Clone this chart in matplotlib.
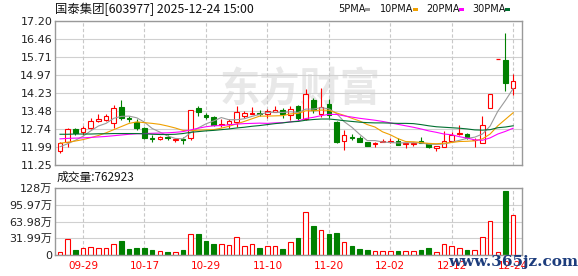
import matplotlib
matplotlib.use("Agg")
import matplotlib.pyplot as plt
from matplotlib.patches import Rectangle

plt.rcParams['font.family'] = ['DejaVu Sans', 'Noto Sans CJK SC']

W, H = 578, 276

# ---- data ----
dates = ['09-24', '09-25', '09-26', '09-29', '09-30', '10-09', '10-10', '10-13', '10-14', '10-15',
         '10-16', '10-17', '10-20', '10-21', '10-22', '10-23', '10-24', '10-27', '10-28', '10-29',
         '10-30', '10-31', '11-03', '11-04', '11-05', '11-06', '11-07', '11-10', '11-11', '11-12',
         '11-13', '11-14', '11-17', '11-18', '11-19', '11-20', '11-21', '11-24', '11-25', '11-26',
         '11-27', '11-28', '12-01', '12-02', '12-03', '12-04', '12-05', '12-08', '12-09', '12-10',
         '12-11', '12-12', '12-15', '12-16', '12-17', '12-18', '12-19', '12-22', '12-23', '12-24']

opens = [11.84, 12.19, 12.74, 12.60, 12.79, 13.08, 13.12, 12.97, 13.63, 13.19,
         13.04, 12.79, 12.38, 12.31, 12.39, 12.28, 12.32, 12.35, 13.59, 13.32,
         13.23, 12.92, 12.94, 13.01, 13.29, 13.37, 13.40, 13.34, 13.45, 13.53,
         13.32, 13.70, 13.14, 13.94, 13.36, 13.76, 13.04, 12.24, 12.42, 12.35,
         12.19, 12.10, 12.21, 12.22, 12.24, 12.10, 12.12, 12.23, 12.15, 11.94,
         12.01, 12.25, 12.55, 12.53, 12.27, 12.17, 13.59, 15.61, 15.59, 14.44]
highs = [12.21, 12.79, 12.79, 12.87, 13.18, 13.35, 13.35, 13.73, 13.94, 13.28,
         13.14, 12.83, 12.49, 12.46, 12.47, 12.36, 12.40, 13.54, 13.69, 13.41,
         13.27, 13.14, 13.15, 13.70, 13.49, 13.66, 13.53, 13.56, 13.69, 13.59,
         13.70, 13.73, 14.39, 14.01, 14.42, 13.98, 13.06, 12.70, 12.52, 12.46,
         12.22, 12.18, 12.32, 12.38, 12.35, 12.16, 12.22, 12.42, 12.17, 12.05,
         12.65, 12.62, 12.92, 12.59, 12.38, 13.27, 14.19, 15.61, 16.72, 15.00]
lows = [11.76, 12.01, 12.49, 12.49, 12.72, 13.01, 13.07, 12.79, 13.11, 13.01,
        12.70, 12.32, 12.21, 12.28, 12.30, 12.19, 12.12, 12.30, 13.27, 13.14,
        12.86, 12.83, 12.77, 12.83, 13.20, 13.34, 13.27, 13.18, 13.43, 13.18,
        13.11, 13.10, 13.12, 13.39, 13.25, 13.18, 12.15, 11.87, 12.28, 12.18,
        12.04, 12.01, 12.19, 12.15, 12.06, 11.96, 12.02, 12.15, 11.94, 11.84,
        12.00, 12.21, 12.50, 12.33, 12.01, 12.14, 13.59, 15.61, 14.32, 14.14]
closes = [12.15, 12.72, 12.57, 12.79, 13.07, 13.15, 13.27, 13.62, 13.18, 13.15,
          12.79, 12.38, 12.31, 12.42, 12.36, 12.31, 12.28, 13.52, 13.43, 13.23,
          12.90, 12.96, 13.08, 13.45, 13.39, 13.40, 13.36, 13.48, 13.53, 13.34,
          13.56, 13.19, 14.17, 13.52, 13.66, 13.32, 12.21, 12.49, 12.38, 12.19,
          12.05, 12.17, 12.23, 12.25, 12.08, 12.14, 12.15, 12.17, 12.01, 12.04,
          12.24, 12.51, 12.57, 12.37, 12.30, 12.90, 14.19, 15.61, 14.63, 14.72]

# volume, in 万
volumes = [5.7, 29.9, 9.6, 13.4, 15.3, 12.7, 12.7, 21.0, 26.8, 11.5,
           13.4, 13.4, 9.6, 7.0, 5.7, 5.7, 9.6, 39.5, 40.8, 26.8,
           21.0, 20.4, 19.1, 33.8, 17.2, 20.4, 13.4, 17.2, 17.2, 12.1,
           25.5, 33.1, 82.2, 56.1, 47.8, 40.8, 42.7, 24.8, 17.2, 11.5,
           9.6, 7.0, 7.0, 7.0, 7.0, 7.6, 7.6, 8.9, 13.4, 5.1,
           20.4, 17.2, 12.7, 9.6, 9.6, 33.8, 64.3, 5.1, 122.0, 76.29]

ma5 = [12.00, 12.13, 12.27, 12.44, 12.66, 12.86, 12.97, 13.18, 13.26, 13.27,
       13.20, 13.02, 12.76, 12.61, 12.45, 12.35, 12.33, 12.58, 12.78, 12.95,
       13.07, 13.21, 13.12, 13.12, 13.16, 13.26, 13.34, 13.42, 13.43, 13.42,
       13.45, 13.42, 13.56, 13.56, 13.62, 13.57, 13.38, 13.04, 12.81, 12.52,
       12.26, 12.26, 12.20, 12.18, 12.16, 12.17, 12.17, 12.16, 12.11, 12.10,
       12.12, 12.19, 12.27, 12.35, 12.40, 12.53, 12.86, 13.47, 13.92, 14.41]
ma10 = [12.15, 12.19, 12.24, 12.30, 12.38, 12.47, 12.58, 12.71, 12.84, 12.97,
        13.03, 13.00, 12.97, 12.93, 12.86, 12.78, 12.68, 12.67, 12.69, 12.70,
        12.71, 12.77, 12.85, 12.95, 13.05, 13.16, 13.27, 13.27, 13.28, 13.29,
        13.36, 13.38, 13.49, 13.49, 13.52, 13.51, 13.40, 13.30, 13.18, 13.07,
        12.92, 12.82, 12.62, 12.50, 12.34, 12.22, 12.21, 12.18, 12.14, 12.13,
        12.15, 12.18, 12.22, 12.23, 12.25, 12.33, 12.53, 12.87, 13.14, 13.41]
ma20 = [12.33, 12.35, 12.36, 12.37, 12.39, 12.41, 12.43, 12.46, 12.49, 12.52,
        12.54, 12.55, 12.56, 12.57, 12.58, 12.60, 12.63, 12.70, 12.77, 12.83,
        12.87, 12.88, 12.91, 12.94, 12.96, 12.97, 12.98, 12.97, 12.99, 13.00,
        13.03, 13.07, 13.17, 13.22, 13.29, 13.34, 13.34, 13.28, 13.23, 13.18,
        13.14, 13.10, 13.05, 12.99, 12.93, 12.87, 12.81, 12.74, 12.66, 12.60,
        12.53, 12.50, 12.42, 12.36, 12.29, 12.27, 12.37, 12.53, 12.64, 12.77]
ma30 = [12.52, 12.52, 12.53, 12.53, 12.53, 12.54, 12.54, 12.55, 12.55, 12.55,
        12.55, 12.54, 12.52, 12.51, 12.51, 12.52, 12.55, 12.60, 12.63, 12.66,
        12.68, 12.71, 12.74, 12.78, 12.81, 12.85, 12.88, 12.92, 12.96, 12.99,
        13.03, 13.05, 13.10, 13.13, 13.15, 13.15, 13.12, 13.08, 13.05, 13.02,
        13.00, 12.99, 12.99, 12.98, 12.97, 12.97, 12.96, 12.92, 12.87, 12.83,
        12.81, 12.79, 12.77, 12.74, 12.70, 12.69, 12.71, 12.79, 12.82, 12.87]

price_ticks = [11.25, 11.99, 12.74, 13.48, 14.23, 14.97, 15.71, 16.46, 17.20]
price_labels = ['11.25', '11.99', '12.74', '13.48', '14.23', '14.97', '15.71', '16.46', '17.20']
vol_ticks = [0, 31.99, 63.98, 95.97, 127.96]
vol_labels = ['0', '31.99万', '63.98万', '95.97万', '128万']
ma_names = ['5PMA', '10PMA', '20PMA', '30PMA']
ma_colors = ['#9a9a9a', '#f0a000', '#ff00ff', '#006f30']
title = '国泰集团[603977] 2025-12-24 15:00'
last_vol = '762923'

RED = '#ff0000'
GREEN = '#008000'


def box(l, t, r, b):
    return [l / W, 1 - b / H, (r - l) / W, (b - t) / H]


fig = plt.figure(figsize=(W / 100, H / 100), dpi=100)
ax = fig.add_axes(box(55, 21, 522, 165))
axv = fig.add_axes(box(55, 188, 522, 255))

n = len(dates)
for a in (ax, axv):
    a.set_xlim(-0.65, 60.15)
    for s in a.spines.values():
        s.set_color('#999999')
        s.set_linewidth(1)
    a.tick_params(length=0, labelsize=8, colors='#222222', pad=2)
    for i in range(3, n, 8):
        a.axvline(i, color='#c8c8c8', lw=0.8, ls=(0, (3, 2)), zorder=0.6)
    a.yaxis.grid(True, color='#d0d0d0', lw=0.8)
    a.set_axisbelow(True)

# price panel
ax.set_ylim(price_ticks[0], price_ticks[-1])
ax.set_yticks(price_ticks)
ax.set_yticklabels(price_labels)
ax.set_xticks([])

ax.text(300 / W, 1 - 90 / H, '东方财富', transform=fig.transFigure, ha='center', va='center',
        fontsize=29, fontweight='bold', color='#e8e8e8', family=['Noto Sans CJK SC'], zorder=0.5)

w = 0.6
for i in range(n):
    o, h, l, c = opens[i], highs[i], lows[i], closes[i]
    up = c >= o
    col = RED if up else GREEN
    top, bot = max(o, c), min(o, c)
    ax.vlines(i, top, h, color=col, lw=0.8, zorder=2)
    ax.vlines(i, l, bot, color=col, lw=0.8, zorder=2)
    if top - bot < 0.01:
        ax.hlines(bot, i - w / 2, i + w / 2, color=col, lw=0.9, zorder=2)
    else:
        ax.add_patch(Rectangle((i - w / 2, bot), w, top - bot, facecolor='white' if up else col,
                               edgecolor=col, lw=0.8, zorder=2))

for vals, col in zip([ma5, ma10, ma20, ma30], ma_colors):
    ax.plot(range(n), vals, color=col, lw=0.8, zorder=3)

# volume panel
axv.set_ylim(vol_ticks[0], vol_ticks[-1])
axv.set_yticks(vol_ticks)
axv.set_yticklabels(vol_labels)
faces = ['white' if closes[i] >= opens[i] else GREEN for i in range(n)]
edges = [RED if closes[i] >= opens[i] else GREEN for i in range(n)]
axv.bar(range(n), volumes, width=w, color=faces, edgecolor=edges, linewidth=0.8, zorder=2)
axv.set_xticks(range(3, n, 8))
axv.set_xticklabels(dates[3::8])
axv.tick_params(axis='x', labelcolor=RED, labelsize=7.5, pad=4)

# header texts
fig.text(55 / W, 1 - 9 / H, title, ha='left', va='center', fontsize=8.9,
         family=['Noto Sans CJK SC', 'DejaVu Sans'], color='#111111')
leg_x = [338, 380, 426, 472]
sq_x = [365, 413, 459, 505]
for name, col, tx, sx in zip(ma_names, ma_colors, leg_x, sq_x):
    fig.text(tx / W, 1 - 9 / H, name, ha='left', va='center', fontsize=7, color='#111111')
    fig.patches.append(Rectangle((sx / W, 1 - 11 / H), 5 / W, 3 / H, transform=fig.transFigure,
                                 facecolor=col, edgecolor='none'))

fig.text(57 / W, 1 - 177 / H, '成交量:' + last_vol, ha='left', va='center', fontsize=8.5,
         family=['Noto Sans CJK SC', 'DejaVu Sans'], color='#111111')

fig.text(513 / W, 1 - 262 / H, 'www.365jz.com', ha='center', va='center', fontsize=11,
         family='DejaVu Serif', fontweight='bold', color='#1c3c7c')

fig.savefig('out.png', dpi=100, facecolor='white')
